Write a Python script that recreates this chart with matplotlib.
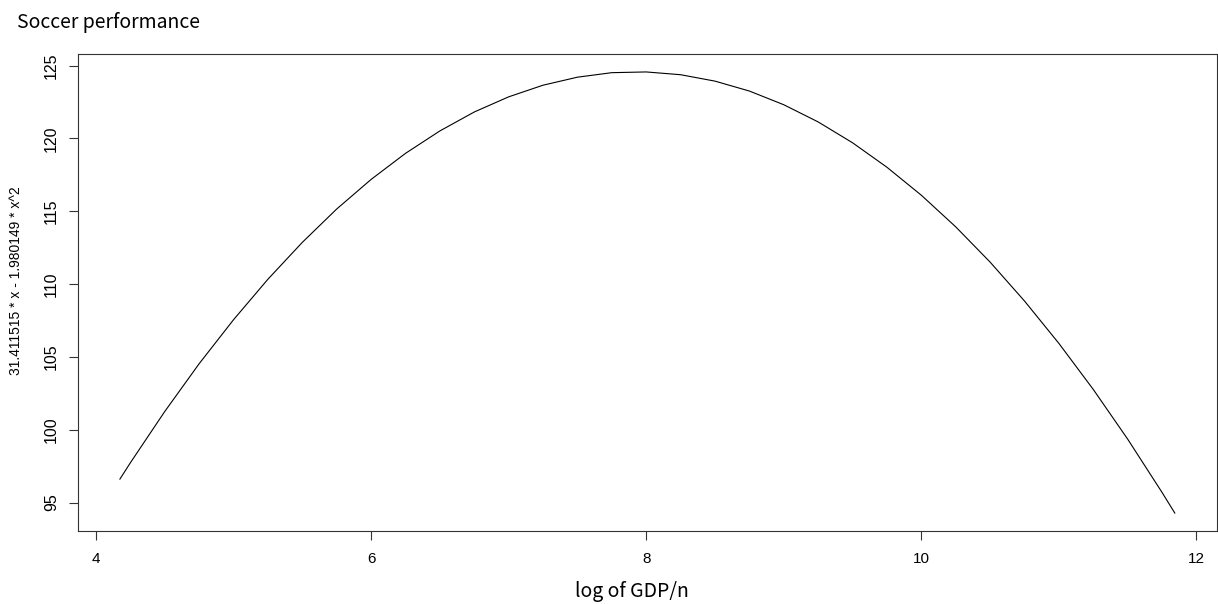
import matplotlib
matplotlib.use("Agg")
import matplotlib.pyplot as plt

# values (log of GDP/n -> fitted performance)
log_gdp = [4.174, 4.25, 4.5, 4.75, 5.0, 5.25, 5.5, 5.75, 6.0, 6.25, 6.5, 6.75,
           7.0, 7.25, 7.5, 7.75, 8.0, 8.25, 8.5, 8.75, 9.0, 9.25, 9.5, 9.75,
           10.0, 10.25, 10.5, 10.75, 11.0, 11.25, 11.5, 11.75, 11.843]
performance = [96.61, 97.73, 101.25, 104.53, 107.55, 110.33, 112.86, 115.15,
               117.18, 118.97, 120.51, 121.81, 122.85, 123.65, 124.20, 124.51,
               124.56, 124.37, 123.93, 123.25, 122.31, 121.13, 119.70, 118.02,
               116.10, 113.93, 111.51, 108.84, 105.93, 102.77, 99.36, 95.70, 94.28]

x_ticks = [4, 6, 8, 10, 12]
y_ticks = [95, 100, 105, 110, 115, 120, 125]

W, H = 1218, 604
fig = plt.figure(figsize=(W / 100, H / 100), dpi=100)
ax = fig.add_axes([77.7 / W, 1 - 530.7 / H, (1217 - 77.7) / W, (530.7 - 54.3) / H])

ax.plot(log_gdp, performance, color="black", lw=0.8)

# R style limits: data range plus 4% each side
xr = max(log_gdp) - min(log_gdp)
yr = max(performance) - min(performance)
ax.set_xlim(min(log_gdp) - 0.04 * xr, max(log_gdp) + 0.04 * xr)
ax.set_ylim(min(performance) - 0.04 * yr, max(performance) + 0.04 * yr)

ax.set_xticks(x_ticks)
ax.set_yticks(y_ticks)
ax.set_xticklabels([str(v) for v in x_ticks], fontfamily="Liberation Sans", fontsize=11)
ax.set_yticklabels([str(v) for v in y_ticks], fontfamily="Liberation Sans", fontsize=11.5,
                   rotation=90, va="center")
ax.tick_params(axis="x", length=6.5, width=0.8, color="#333333", pad=8.5)
ax.tick_params(axis="y", length=6.5, width=0.8, color="#333333", pad=7)
for s in ax.spines.values():
    s.set_color("#333333")
    s.set_linewidth(0.8)

fig.text(17 / W, 1 - 28.3 / H, "Soccer performance", fontfamily="Noto Sans CJK KR",
         fontsize=14, ha="left", va="baseline")
fig.text(632 / W, 1 - 597 / H, "log of GDP/n", fontfamily="Noto Sans CJK KR",
         fontsize=14, ha="center", va="baseline")
fig.text(16 / W, 1 - 281 / H, "31.411515 * x - 1.980149 * x^2", fontfamily="Liberation Sans",
         fontsize=10, rotation=90, ha="center", va="center")

fig.savefig("out.png", dpi=100)
